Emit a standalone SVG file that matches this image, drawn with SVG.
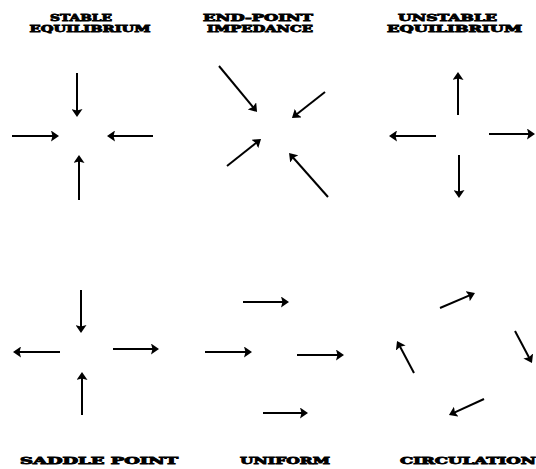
<svg xmlns="http://www.w3.org/2000/svg" width="536" height="469" viewBox="0 0 536 469">
<style>
.t{font-family:"DejaVu Serif","Liberation Serif",serif;font-weight:bold;font-size:9px;fill:#000;stroke:#000;stroke-width:0.8;text-anchor:middle}
.a{stroke:#000;stroke-width:2;fill:none;marker-end:url(#ah)}
</style>
<defs>
<marker id="ah" viewBox="0 0 8 11" markerWidth="8" markerHeight="11" refX="4" refY="5.5" orient="auto" markerUnits="userSpaceOnUse">
<path d="M0,0 L8,5.5 L0,11 L1.5,5.5 Z" fill="#000"/>
</marker>
</defs>
<rect width="536" height="469" fill="#fff"/>
<g id="stable">
<text class="t" x="81" y="21" textLength="62" lengthAdjust="spacingAndGlyphs">STABLE</text>
<text class="t" x="90" y="32" textLength="121" lengthAdjust="spacingAndGlyphs">EQUILIBRIUM</text>
<line class="a" x1="77" y1="73" x2="77" y2="113"/>
<line class="a" x1="12" y1="136" x2="55" y2="136"/>
<line class="a" x1="153" y1="136" x2="111" y2="136"/>
<line class="a" x1="79" y1="200" x2="79" y2="159"/>
</g>
<g id="endpoint">
<text class="t" x="258" y="21" textLength="110" lengthAdjust="spacingAndGlyphs">END-POINT</text>
<text class="t" x="260" y="32" textLength="106" lengthAdjust="spacingAndGlyphs">IMPEDANCE</text>
<line class="a" x1="219" y1="66" x2="254.5" y2="108.9"/>
<line class="a" x1="325" y1="92" x2="295.1" y2="115.5"/>
<line class="a" x1="227" y1="166" x2="257.9" y2="141.5"/>
<line class="a" x1="328" y1="197" x2="291.7" y2="156"/>
</g>
<g id="unstable">
<text class="t" x="447.5" y="21" textLength="99" lengthAdjust="spacingAndGlyphs">UNSTABLE</text>
<text class="t" x="454.5" y="32" textLength="135" lengthAdjust="spacingAndGlyphs">EQUILIBRIUM</text>
<line class="a" x1="458" y1="115" x2="458" y2="76"/>
<line class="a" x1="436" y1="136" x2="393" y2="136"/>
<line class="a" x1="489" y1="134" x2="531" y2="134"/>
<line class="a" x1="459" y1="155" x2="459" y2="194"/>
</g>
<g id="saddle">
<text class="t" x="99" y="464" textLength="158" lengthAdjust="spacingAndGlyphs">SADDLE POINT</text>
<line class="a" x1="81" y1="290" x2="81" y2="329"/>
<line class="a" x1="60" y1="352" x2="17" y2="352"/>
<line class="a" x1="113" y1="349" x2="155" y2="349"/>
<line class="a" x1="82" y1="415" x2="82" y2="376"/>
</g>
<g id="uniform">
<text class="t" x="285" y="464" textLength="90" lengthAdjust="spacingAndGlyphs">UNIFORM</text>
<line class="a" x1="243" y1="302" x2="285" y2="302"/>
<line class="a" x1="205" y1="352" x2="248" y2="352"/>
<line class="a" x1="297" y1="355" x2="340" y2="355"/>
<line class="a" x1="263" y1="413" x2="304" y2="413"/>
</g>
<g id="circulation">
<text class="t" x="468" y="464" textLength="136" lengthAdjust="spacingAndGlyphs">CIRCULATION</text>
<line class="a" x1="440" y1="308" x2="471.3" y2="294.6"/>
<line class="a" x1="515" y1="331" x2="530.1" y2="359.5"/>
<line class="a" x1="484" y1="399" x2="452.6" y2="413.3"/>
<line class="a" x1="414" y1="373" x2="398.9" y2="344.5"/>
</g>
</svg>
